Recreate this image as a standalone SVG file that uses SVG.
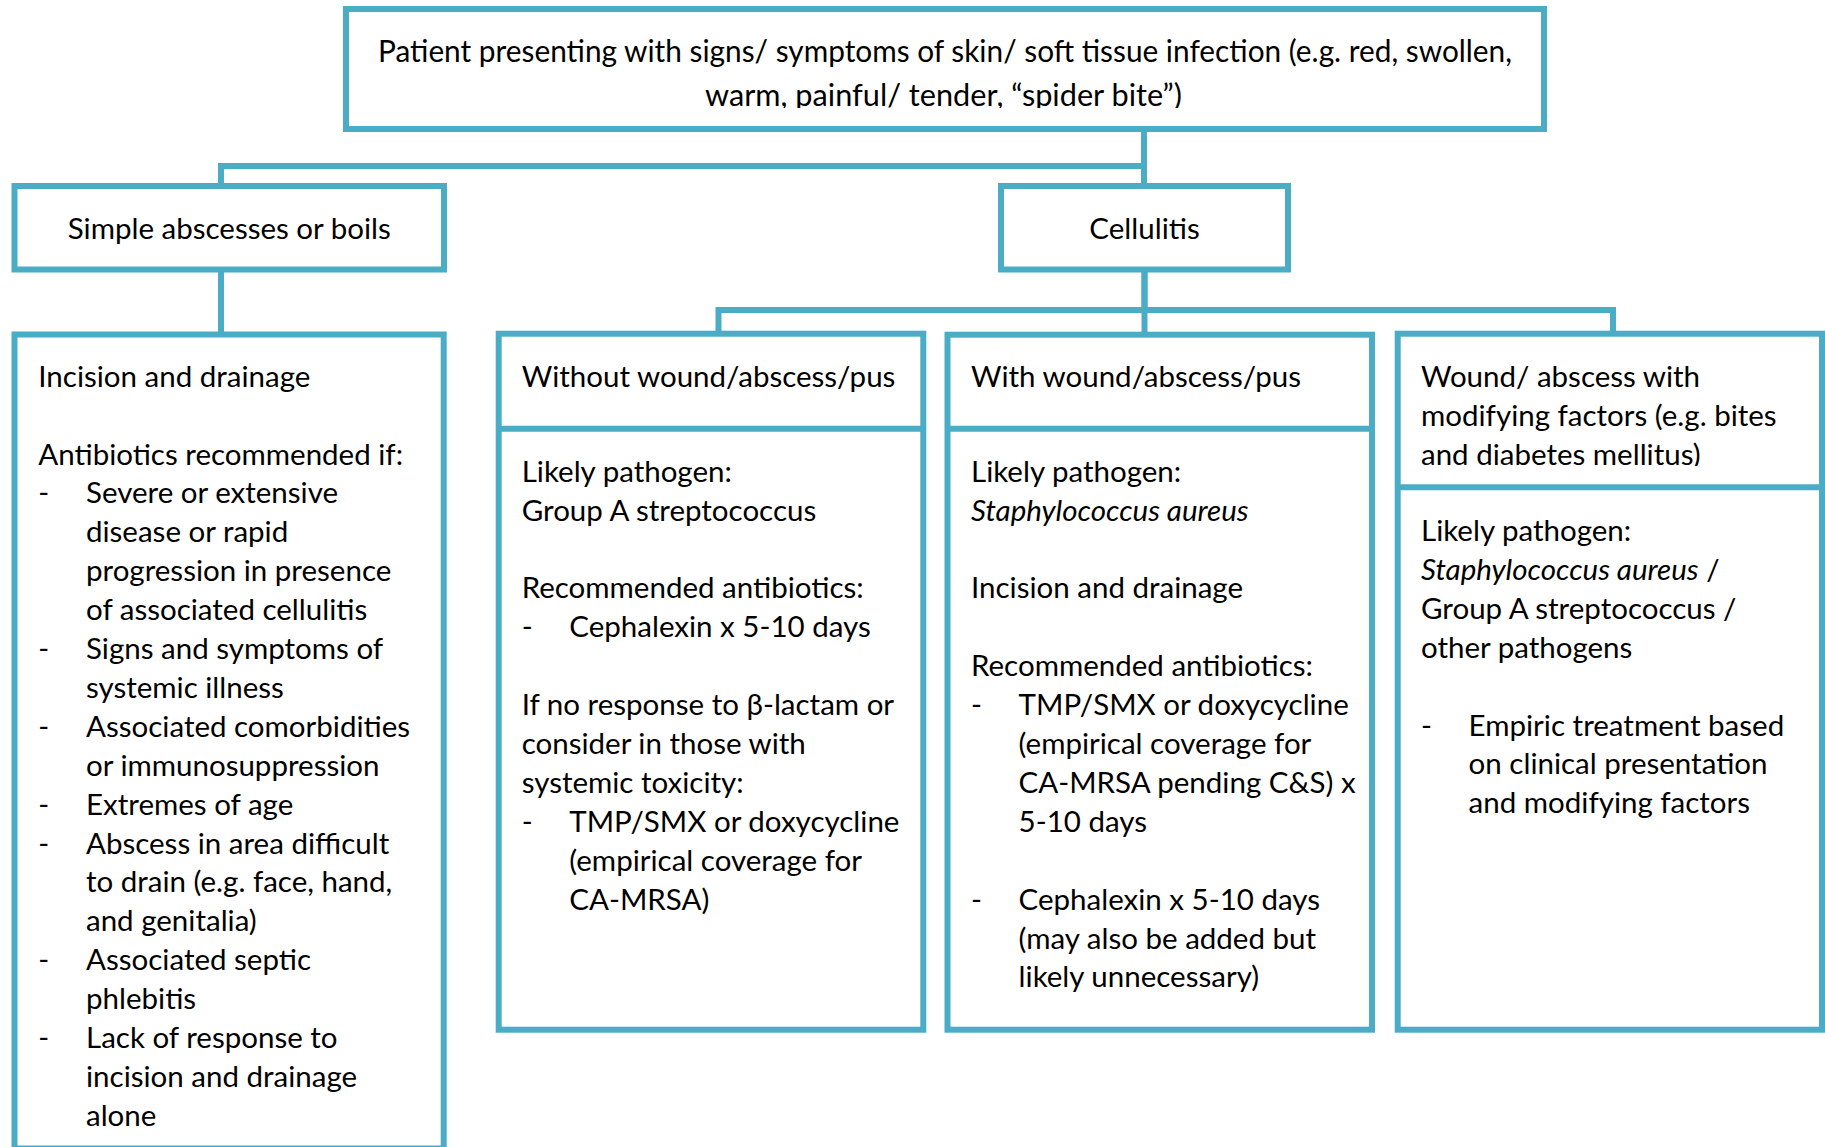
<svg xmlns="http://www.w3.org/2000/svg" width="1825" height="1147" viewBox="0 0 1825 1147">
<style>
.box{fill:#fff;stroke:#4BACC6;stroke-width:6}
.conn{fill:none;stroke:#4BACC6;stroke-width:6}
text{font-family:Lato,'Open Sans','Liberation Sans',sans-serif;font-size:29.5px;fill:#000}
.it{font-style:italic}
.topt{font-size:30px}
.c{text-anchor:middle}
</style>
<defs>
<clipPath id="clipTop"><rect x="350" y="12" width="1190" height="96"/></clipPath>
<clipPath id="clipWound"><rect x="1400" y="337" width="420" height="129"/></clipPath>
</defs>
<g id="connectors">
<path class="conn" d="M1144,129 V166 H221 V186"/>
<path class="conn" d="M1144,129 V186"/>
<path class="conn" d="M221,269 V334"/>
<path class="conn" d="M1144.5,269 V310 H718.5 V334"/>
<path class="conn" d="M1144.5,269 V334"/>
<path class="conn" d="M1144.5,310 H1613 V334"/>
</g>
<g id="top">
<rect class="box" x="346" y="9" width="1198" height="120"/>
<g clip-path="url(#clipTop)">
<text class="topt" x="378" y="62" textLength="1134" lengthAdjust="spacingAndGlyphs">Patient presenting with signs/ symptoms of skin/ soft tissue infection (e.g. red, swollen,</text>
<text class="topt" x="705" y="106" textLength="477" lengthAdjust="spacingAndGlyphs">warm, painful/ tender, “spider bite”)</text>
</g>
</g>
<g id="simple">
<rect class="box" x="14.5" y="186" width="429.5" height="83.5"/>
<text class="c" x="229.3" y="239">Simple abscesses or boils</text>
</g>
<g id="cellulitis">
<rect class="box" x="1001" y="186" width="287" height="83.5"/>
<text class="c" x="1144.5" y="239">Cellulitis</text>
</g>
<g id="incision">
<rect class="box" x="14.5" y="334.5" width="429.2" height="814"/>
<text x="38.3" y="386.7">Incision and drainage</text>
<text x="38.3" y="464.5">Antibiotics recommended if:</text>
<text x="38.3" y="503.4">-</text><text x="86" y="503.4">Severe or extensive</text>
<text x="86" y="542.3">disease or rapid</text>
<text x="86" y="581.2">progression in presence</text>
<text x="86" y="620.1">of associated cellulitis</text>
<text x="38.3" y="659">-</text><text x="86" y="659">Signs and symptoms of</text>
<text x="86" y="697.9">systemic illness</text>
<text x="38.3" y="736.8">-</text><text x="86" y="736.8">Associated comorbidities</text>
<text x="86" y="775.7">or immunosuppression</text>
<text x="38.3" y="814.6">-</text><text x="86" y="814.6">Extremes of age</text>
<text x="38.3" y="853.5">-</text><text x="86" y="853.5">Abscess in area difficult</text>
<text x="86" y="892.4">to drain (e.g. face, hand,</text>
<text x="86" y="931.3">and genitalia)</text>
<text x="38.3" y="970.2">-</text><text x="86" y="970.2">Associated septic</text>
<text x="86" y="1009.1">phlebitis</text>
<text x="38.3" y="1048">-</text><text x="86" y="1048">Lack of response to</text>
<text x="86" y="1086.9">incision and drainage</text>
<text x="86" y="1125.8">alone</text>
</g>
<g id="without">
<rect class="box" x="498.7" y="333.7" width="424.6" height="696"/>
<line class="conn" x1="498.7" y1="428.7" x2="923.3" y2="428.7"/>
<text x="521.7" y="387.3">Without wound/abscess/pus</text>
<text x="521.7" y="481.7">Likely pathogen:</text>
<text x="521.7" y="520.6">Group A streptococcus</text>
<text x="521.7" y="598.4">Recommended antibiotics:</text>
<text x="521.7" y="637.3">-</text><text x="569.3" y="637.3">Cephalexin x 5-10 days</text>
<text x="521.7" y="715.1">If no response to β-lactam or</text>
<text x="521.7" y="754">consider in those with</text>
<text x="521.7" y="792.9">systemic toxicity:</text>
<text x="521.7" y="831.8">-</text><text x="569.3" y="831.8">TMP/SMX or doxycycline</text>
<text x="569.3" y="870.7">(empirical coverage for</text>
<text x="569.3" y="909.6">CA-MRSA)</text>
</g>
<g id="with">
<rect class="box" x="947.5" y="334.7" width="424.5" height="695"/>
<line class="conn" x1="947.5" y1="428.7" x2="1372" y2="428.7"/>
<text x="971" y="387.3">With wound/abscess/pus</text>
<text x="971" y="481.7">Likely pathogen:</text>
<text class="it" x="971" y="520.6">Staphylococcus aureus</text>
<text x="971" y="598.4">Incision and drainage</text>
<text x="971" y="676.2">Recommended antibiotics:</text>
<text x="971" y="715.1">-</text><text x="1018.6" y="715.1">TMP/SMX or doxycycline</text>
<text x="1018.6" y="754">(empirical coverage for</text>
<text x="1018.6" y="792.9">CA-MRSA pending C&amp;S) x</text>
<text x="1018.6" y="831.8">5-10 days</text>
<text x="971" y="909.6">-</text><text x="1018.6" y="909.6">Cephalexin x 5-10 days</text>
<text x="1018.6" y="948.5">(may also be added but</text>
<text x="1018.6" y="987.4">likely unnecessary)</text>
</g>
<g id="wound">
<rect class="box" x="1397.7" y="333.7" width="424.3" height="696"/>
<line class="conn" x1="1397.7" y1="487.3" x2="1822" y2="487.3"/>
<g clip-path="url(#clipWound)">
<text x="1421" y="387.3">Wound/ abscess with</text>
<text x="1421" y="426.2">modifying factors (e.g. bites</text>
<text x="1421" y="465.1">and diabetes mellitus)</text>
</g>
<text x="1421" y="541">Likely pathogen:</text>
<text x="1421" y="579.9"><tspan class="it">Staphylococcus aureus</tspan> /</text>
<text x="1421" y="618.8">Group A streptococcus /</text>
<text x="1421" y="657.7">other pathogens</text>
<text x="1421" y="735.5">-</text><text x="1468.6" y="735.5">Empiric treatment based</text>
<text x="1468.6" y="774.4">on clinical presentation</text>
<text x="1468.6" y="813.3">and modifying factors</text>
</g>
</svg>
